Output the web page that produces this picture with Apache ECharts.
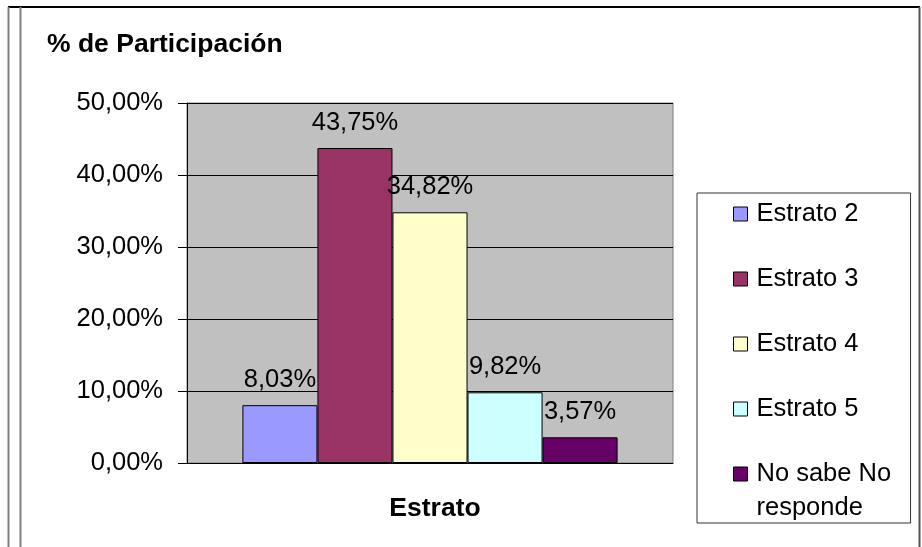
<!DOCTYPE html>
<html>
<head>
<meta charset="utf-8">
<title>% de Participación por estrato</title>
<script src="https://cdn.jsdelivr.net/npm/echarts@6/dist/echarts.min.js"></script>
<style>
  html, body { margin: 0; padding: 0; background: #ffffff; }
  #chart { width: 922px; height: 547px; }
</style>
</head>
<body>
<div id="chart"></div>
<script>
// Survey share by socio-economic stratum
const categories = ['Estrato'];
const seriesNames = ['Estrato 2', 'Estrato 3', 'Estrato 4', 'Estrato 5', 'No sabe No responde'];
const seriesValues = [8.03, 43.75, 34.82, 9.82, 3.57];
const seriesColors = ['#9999FF', '#993366', '#FFFFCC', '#CCFFFF', '#660066'];
const yMin = 0, yMax = 50, yStep = 10;

const FONT = 'Liberation Sans, Arial, sans-serif';
const pct = v => Number(v).toFixed(2).replace('.', ',') + '%';

const series = seriesNames.map((name, i) => ({
  name: name,
  type: 'bar',
  data: [seriesValues[i]],
  barGap: '0%',
  barCategoryGap: '22.8%',
  itemStyle: { color: seriesColors[i], borderColor: '#000000', borderWidth: 1 },
  label: {
    show: true,
    position: 'top',
    distance: 12,
    formatter: p => pct(p.value),
    fontFamily: FONT,
    fontSize: 25.5,
    lineHeight: 26,
    color: '#000000'
  }
}));

const legendText = { fontFamily: FONT, fontSize: 25.5, lineHeight: 34, color: '#000000', padding: [0, 0, 0, 4] };
const legendIcon = { borderColor: '#000000', borderWidth: 1 };

const chart = echarts.init(document.getElementById('chart'), null, { renderer: 'canvas' });
chart.setOption({
  animation: false,
  backgroundColor: '#ffffff',
  title: {
    text: '% de Participación',
    left: 47,
    top: 30,
    padding: 0,
    textStyle: { fontFamily: FONT, fontSize: 26.5, fontWeight: 'bold', lineHeight: 30, color: '#000000' }
  },
  grid: {
    left: 187, right: 249, top: 103, bottom: 84,
    show: true,
    backgroundColor: '#C0C0C0',
    borderColor: '#808080',
    borderWidth: 1
  },
  legend: [
    {
      data: seriesNames.slice(0, 4),
      orient: 'vertical',
      left: 697,
      top: 193,
      padding: [4, 52, 97, 36],
      itemGap: 31,
      itemWidth: 14,
      itemHeight: 14,
      icon: 'rect',
      selectedMode: false,
      borderColor: '#333333',
      borderWidth: 1,
      backgroundColor: '#ffffff',
      itemStyle: legendIcon,
      textStyle: legendText
    },
    {
      // last entry wraps onto a second line; the leading blank line keeps
      // the first line level with its swatch
      data: seriesNames.slice(4),
      orient: 'vertical',
      left: 733,
      top: 423,
      padding: 0,
      itemWidth: 14,
      itemHeight: 14,
      icon: 'rect',
      selectedMode: false,
      itemStyle: legendIcon,
      formatter: () => ' \nNo sabe No\nresponde',
      textStyle: legendText
    }
  ],
  xAxis: {
    type: 'category',
    data: categories,
    name: 'Estrato',
    nameLocation: 'middle',
    nameGap: 32,
    nameTextStyle: { fontFamily: FONT, fontSize: 26.5, fontWeight: 'bold', color: '#000000', lineHeight: 28, padding: [0, 0, 0, 10] },
    axisLine: { show: true, lineStyle: { color: '#000000', width: 1 } },
    axisTick: { show: false },
    axisLabel: { show: false },
    splitLine: { show: false }
  },
  yAxis: {
    type: 'value',
    min: yMin,
    max: yMax,
    interval: yStep,
    axisLine: { show: true, lineStyle: { color: '#000000', width: 1 } },
    axisTick: { show: true, length: 9, lineStyle: { color: '#000000' } },
    axisLabel: { margin: 24, formatter: v => pct(v), fontFamily: FONT, fontSize: 25.5, color: '#000000' },
    splitLine: { show: true, lineStyle: { color: '#000000', width: 1 } }
  },
  series: series,
  graphic: [
    { type: 'line', shape: { x1: 8, y1: 7, x2: 920, y2: 7 }, style: { stroke: '#000000', lineWidth: 2 }, z: 10 },
    { type: 'line', shape: { x1: 8.5, y1: 7, x2: 8.5, y2: 547 }, style: { stroke: '#808080', lineWidth: 2 }, z: 10 },
    { type: 'line', shape: { x1: 20.5, y1: 7, x2: 20.5, y2: 547 }, style: { stroke: '#808080', lineWidth: 2 }, z: 10 },
    { type: 'line', shape: { x1: 919.5, y1: 7, x2: 919.5, y2: 547 }, style: { stroke: '#555555', lineWidth: 2 }, z: 10 }
  ]
});
</script>
</body>
</html>
